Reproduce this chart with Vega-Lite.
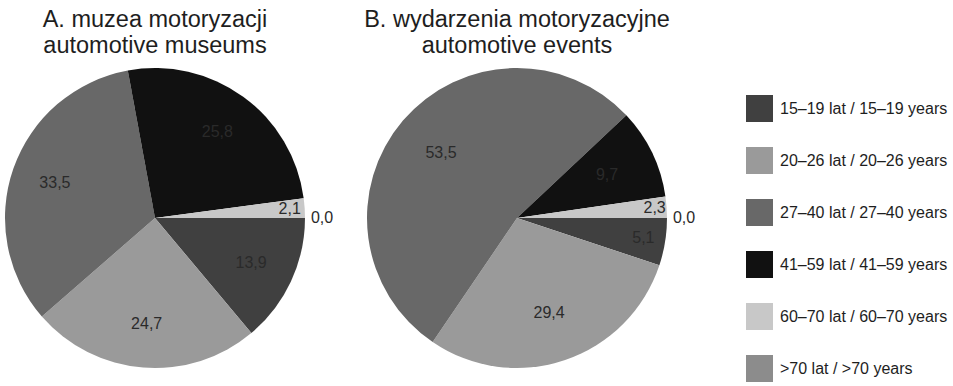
{
  "$schema": "https://vega.github.io/schema/vega-lite/v6.json",
  "background": "white",
  "padding": {"left": 5, "top": 7, "right": 5, "bottom": 5},
  "bounds": "flush",
  "datasets": {
    "shares": [
      {"panel": "A", "idx": 1, "group": "15–19 lat / 15–19 years", "value": 13.9},
      {"panel": "A", "idx": 2, "group": "20–26 lat / 20–26 years", "value": 24.7},
      {"panel": "A", "idx": 3, "group": "27–40 lat / 27–40 years", "value": 33.5},
      {"panel": "A", "idx": 4, "group": "41–59 lat / 41–59 years", "value": 25.8},
      {"panel": "A", "idx": 5, "group": "60–70 lat / 60–70 years", "value": 2.1},
      {"panel": "A", "idx": 6, "group": ">70 lat / >70 years", "value": 0.0},
      {"panel": "B", "idx": 1, "group": "15–19 lat / 15–19 years", "value": 5.1},
      {"panel": "B", "idx": 2, "group": "20–26 lat / 20–26 years", "value": 29.4},
      {"panel": "B", "idx": 3, "group": "27–40 lat / 27–40 years", "value": 53.5},
      {"panel": "B", "idx": 4, "group": "41–59 lat / 41–59 years", "value": 9.7},
      {"panel": "B", "idx": 5, "group": "60–70 lat / 60–70 years", "value": 2.3},
      {"panel": "B", "idx": 6, "group": ">70 lat / >70 years", "value": 0.0}
    ]
  },
  "hconcat": [
    {
      "title": {"text": ["A. muzea motoryzacji", "automotive museums"]},
      "width": 300,
      "height": 300,
      "data": {"name": "shares"},
      "transform": [
        {"filter": "datum.panel === 'A'"},
        {"stack": "value", "groupby": [], "sort": [{"field": "idx", "order": "ascending"}], "as": ["v0", "v1"]},
        {"calculate": "(datum.v0 + datum.v1) / 2", "as": "mid"},
        {"calculate": "replace(format(datum.value, '.1f'), '.', ',')", "as": "label"},
        {"calculate": "datum.value >= 9 ? 0 : datum.value > 0 ? 1 : 2", "as": "ring"}
      ],
      "layer": [
        {
          "mark": {"type": "arc", "outerRadius": 150, "strokeWidth": 0},
          "encoding": {
            "theta": {"field": "v0", "type": "quantitative", "scale": {"domain": [0, 100], "range": [1.5707963, 7.8539816]}},
            "theta2": {"field": "v1"},
            "color": {
              "field": "group", "type": "nominal", "title": null,
              "scale": {
                "domain": ["15–19 lat / 15–19 years", "20–26 lat / 20–26 years", "27–40 lat / 27–40 years", "41–59 lat / 41–59 years", "60–70 lat / 60–70 years", ">70 lat / >70 years"],
                "range": ["#404040", "#9a9a9a", "#686868", "#111111", "#c8c8c8", "#8c8c8c"]
              }
            }
          }
        },
        {
          "mark": {"type": "text"},
          "encoding": {
            "theta": {"field": "mid", "type": "quantitative", "stack": null},
            "text": {"field": "label"},
            "radius": {"field": "ring", "type": "quantitative", "scale": {"type": "linear", "zero": false, "domain": [0, 1, 2], "range": [106, 135, 167]}}
          }
        }
      ]
    },
    {
      "title": {"text": ["B. wydarzenia motoryzacyjne", "automotive events"]},
      "width": 300,
      "height": 300,
      "data": {"name": "shares"},
      "transform": [
        {"filter": "datum.panel === 'B'"},
        {"stack": "value", "groupby": [], "sort": [{"field": "idx", "order": "ascending"}], "as": ["v0", "v1"]},
        {"calculate": "(datum.v0 + datum.v1) / 2", "as": "mid"},
        {"calculate": "replace(format(datum.value, '.1f'), '.', ',')", "as": "label"},
        {"calculate": "datum.value >= 9 ? 0 : datum.value >= 4 ? 1 : datum.value > 0 ? 2 : 3", "as": "ring"}
      ],
      "layer": [
        {
          "mark": {"type": "arc", "outerRadius": 150, "strokeWidth": 0},
          "encoding": {
            "theta": {"field": "v0", "type": "quantitative", "scale": {"domain": [0, 100], "range": [1.5707963, 7.8539816]}},
            "theta2": {"field": "v1"},
            "color": {
              "field": "group", "type": "nominal", "title": null,
              "scale": {
                "domain": ["15–19 lat / 15–19 years", "20–26 lat / 20–26 years", "27–40 lat / 27–40 years", "41–59 lat / 41–59 years", "60–70 lat / 60–70 years", ">70 lat / >70 years"],
                "range": ["#404040", "#9a9a9a", "#686868", "#111111", "#c8c8c8", "#8c8c8c"]
              }
            }
          }
        },
        {
          "mark": {"type": "text"},
          "encoding": {
            "theta": {"field": "mid", "type": "quantitative", "stack": null},
            "text": {"field": "label"},
            "radius": {"field": "ring", "type": "quantitative", "scale": {"type": "linear", "zero": false, "domain": [0, 1, 2, 3], "range": [100, 128, 138, 167]}}
          }
        }
      ]
    }
  ],
  "spacing": 62,
  "resolve": {"scale": {"theta": "independent", "radius": "independent"}},
  "config": {
    "view": {"stroke": null},
    "title": {"font": "Liberation Sans", "fontSize": 23.5, "fontWeight": "normal", "color": "#1e1e1e", "anchor": "middle", "offset": 11, "lineHeight": 26},
    "text": {"font": "Liberation Sans", "fontSize": 16, "color": "#2a2a2a", "align": "center", "baseline": "middle"},
    "legend": {
      "orient": "none",
      "legendX": 741,
      "legendY": 27,
      "padding": 0,
      "symbolType": "square",
      "symbolSize": 729,
      "symbolStrokeWidth": 0,
      "symbolOpacity": 1,
      "labelFont": "Liberation Sans",
      "labelFontSize": 16,
      "labelColor": "#1e1e1e",
      "labelOffset": 7,
      "labelLimit": 300,
      "rowPadding": 25
    }
  }
}
